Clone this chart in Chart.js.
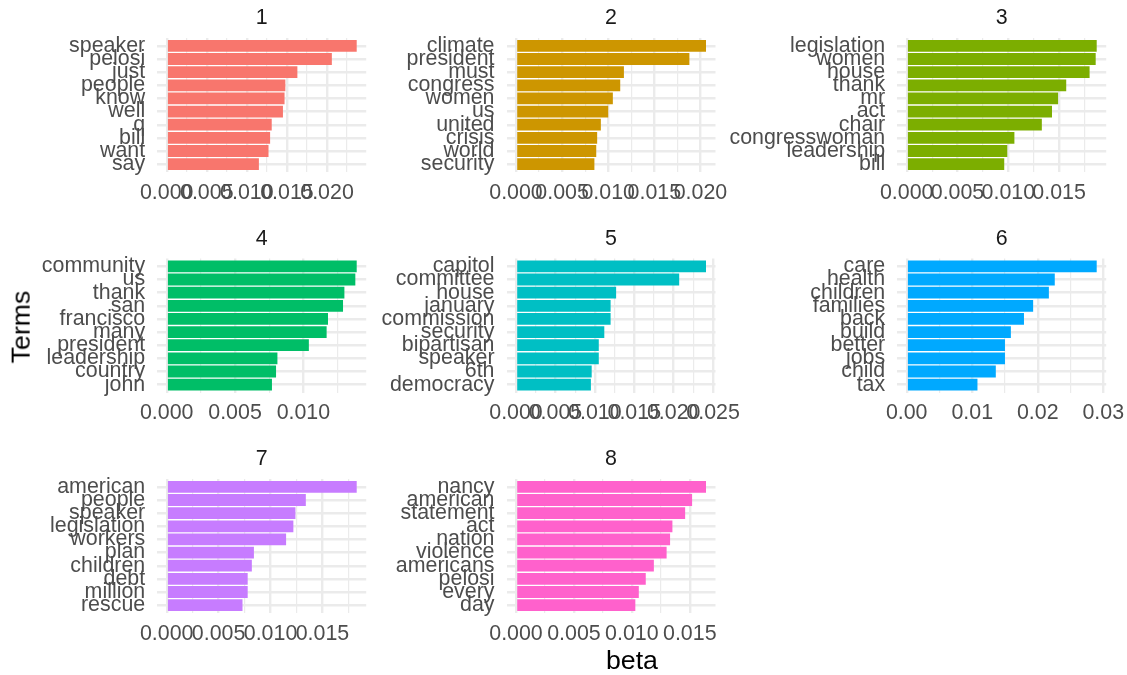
<!DOCTYPE html>
<html><head><meta charset="utf-8">
<script src="https://cdn.jsdelivr.net/npm/chart.js@4/dist/chart.umd.min.js"></script>
<style>
html,body{margin:0;padding:0;background:#fff;width:1127px;height:675px;overflow:hidden;position:relative;font-family:'Liberation Sans',Arial,sans-serif;}
canvas{position:absolute;left:0;top:0;}
.lbl{position:absolute;white-space:nowrap;line-height:1;transform:translate(-50%,-50%);}
</style></head><body>
<script>
// ---- data ----
const terms1 = ["speaker","pelosi","just","people","know","well","q","bill","want","say"];
const beta1  = [0.0237,0.0206,0.0163,0.0148,0.0147,0.0145,0.0131,0.0129,0.0127,0.0115];
const ticks1 = [0,0.005,0.010,0.015,0.020];

const terms2 = ["climate","president","must","congress","women","us","united","crisis","world","security"];
const beta2  = [0.0206,0.0188,0.0117,0.0113,0.0105,0.0100,0.0092,0.0088,0.0087,0.0085];
const ticks2 = [0,0.005,0.010,0.015,0.020];

const terms3 = ["legislation","women","house","thank","mr","act","chair","congresswoman","leadership","bill"];
const beta3  = [0.0187,0.0186,0.0180,0.0157,0.0149,0.0143,0.0133,0.0106,0.0099,0.0096];
const ticks3 = [0,0.005,0.010,0.015];

const terms4 = ["community","us","thank","san","francisco","many","president","leadership","country","john"];
const beta4  = [0.0139,0.0138,0.0130,0.0129,0.0118,0.0117,0.0104,0.0081,0.0080,0.0077];
const ticks4 = [0,0.005,0.010];

const terms5 = ["capitol","committee","house","january","commission","security","bipartisan","speaker","6th","democracy"];
const beta5  = [0.0241,0.0207,0.0127,0.0120,0.0120,0.0112,0.0105,0.0105,0.0096,0.0095];
const ticks5 = [0,0.005,0.010,0.015,0.020,0.025];

const terms6 = ["care","health","children","families","back","build","better","jobs","child","tax"];
const beta6  = [0.0290,0.0226,0.0217,0.0193,0.0179,0.0159,0.0150,0.0150,0.0136,0.0108];
const ticks6 = [0,0.01,0.02,0.03];

const terms7 = ["american","people","speaker","legislation","workers","plan","children","debt","million","rescue"];
const beta7  = [0.0183,0.0134,0.0124,0.0122,0.0115,0.0084,0.0082,0.0078,0.0078,0.0073];
const ticks7 = [0,0.005,0.010,0.015];

const terms8 = ["nancy","american","statement","act","nation","violence","americans","pelosi","every","day"];
const beta8  = [0.0164,0.0152,0.0146,0.0135,0.0133,0.0130,0.0119,0.0112,0.0106,0.0103];
const ticks8 = [0,0.005,0.010,0.015];

const topicNames = ["1","2","3","4","5","6","7","8"];
const topicColors = ["#F8766D","#CD9600","#7CAE00","#00BE67","#00BFC4","#00A9FF","#C77CFF","#FF61CC"];
const tickDigits = [3,3,3,3,3,2,3,3];
const xTitle = "beta";
const yTitle = "Terms";

const allTerms = [terms1,terms2,terms3,terms4,terms5,terms6,terms7,terms8];
const allBeta  = [beta1,beta2,beta3,beta4,beta5,beta6,beta7,beta8];
const allTicks = [ticks1,ticks2,ticks3,ticks4,ticks5,ticks6,ticks7,ticks8];

// ---- layout ----
const W = 1127, H = 675, CW = 1200;
const colLeft = [157.2, 506.5, 897.2];
const rowTop = [38, 258.5, 479];
const panelW = 209, panelH = 134, xAxisH = 45;
const FS = 21.4, TFS = 26.7;

Chart.defaults.font.family = "'Liberation Sans', Arial, sans-serif";
Chart.defaults.color = '#4D4D4D';

function addLabel(text, x, y, size, color, rotate) {
  const d = document.createElement('div');
  d.className = 'lbl';
  d.textContent = text;
  d.style.left = x + 'px';
  d.style.top = y + 'px';
  d.style.fontSize = size + 'px';
  d.style.color = color;
  if (rotate) d.style.transform = 'translate(-50%,-50%) rotate(-90deg)';
  document.body.appendChild(d);
}

allTerms.forEach((terms, i) => {
  const beta = allBeta[i];
  const majors = allTicks[i];
  const step = majors[1] - majors[0];
  const mx = Math.max(...beta);
  const lo = -0.05 * mx, hi = 1.05 * mx;
  const gridVals = [];
  for (let k = 0; k * step / 2 <= hi + 1e-12; k++) gridVals.push(+(k * step / 2).toFixed(6));
  const majorSet = new Set(majors.map(v => v.toFixed(6)));
  const isMajor = v => majorSet.has((+v).toFixed(6));

  const col = i % 3, row = Math.floor(i / 3);
  const L = colLeft[col], T = rowTop[row];

  const cv = document.createElement('canvas');
  cv.width = CW; cv.height = H;
  cv.style.width = CW + 'px'; cv.style.height = H + 'px';
  document.body.appendChild(cv);

  new Chart(cv, {
    type: 'bar',
    data: {
      datasets: [{
        data: beta.map((v, k) => ({x: v, y: k})),
        backgroundColor: topicColors[i],
        borderWidth: 0,
        barPercentage: 0.9,
        categoryPercentage: 1
      }]
    },
    options: {
      indexAxis: 'y',
      responsive: false,
      animation: false,
      devicePixelRatio: 1,
      layout: {padding: {left: 0, top: T, right: CW - (L + panelW), bottom: H - (T + panelH) - xAxisH}},
      plugins: {legend: {display: false}, tooltip: {enabled: false}, title: {display: false}},
      scales: {
        x: {
          type: 'linear', position: 'bottom', min: lo, max: hi, offset: false,
          afterBuildTicks: s => { s.ticks = gridVals.map(v => ({value: v})); },
          afterFit: s => { s.height = xAxisH; },
          ticks: {
            autoSkip: false, maxRotation: 0, minRotation: 0, padding: 8,
            color: '#4D4D4D', font: {size: FS},
            callback: v => isMajor(v) ? (+v).toFixed(tickDigits[i]) : ''
          },
          grid: {color: '#EBEBEB', drawTicks: false, offset: false,
                 lineWidth: c => (c.tick && isMajor(c.tick.value)) ? 2.4 : 1.2},
          border: {display: false}
        },
        y: {
          type: 'linear', position: 'left', reverse: true, offset: false,
          min: -0.6, max: terms.length - 1 + 0.6,
          afterBuildTicks: s => { s.ticks = terms.map((t, k) => ({value: k})); },
          afterFit: s => { s.width = L; },
          ticks: {autoSkip: false, padding: 12, color: '#4D4D4D', font: {size: FS},
                  callback: v => terms[v]},
          grid: {color: '#EBEBEB', lineWidth: 2.4, drawTicks: false, offset: false},
          border: {display: false}
        }
      }
    }
  });

  addLabel(topicNames[i], L + panelW / 2, T - 20, FS, '#1A1A1A', false);
});

addLabel(yTitle, 20.7, 327, TFS, '#000000', true);
addLabel(xTitle, 632, 659.5, TFS, '#000000', false);
</script>
</body></html>
